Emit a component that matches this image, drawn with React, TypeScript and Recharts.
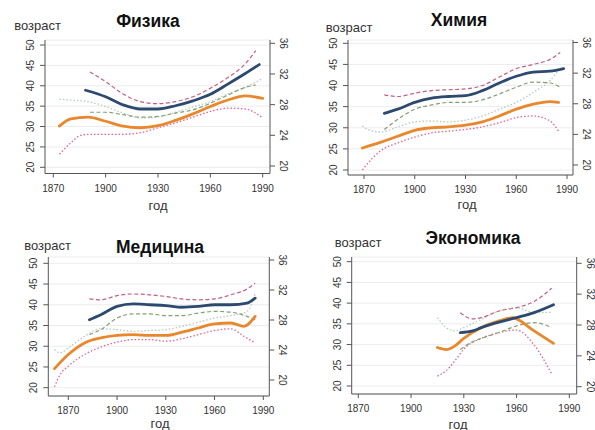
import React from 'react';
import { LineChart, Line, XAxis, YAxis, CartesianGrid } from 'recharts';

type Pt = [number, number];

// ---------- tick labels / texts ----------
const yearTicks = [1870, 1900, 1930, 1960, 1990];
const ageTicks = [20, 25, 30, 35, 40, 45, 50];
const rightTicks = [20, 24, 28, 32, 36];
const titles = ['Физика', 'Химия', 'Медицина', 'Экономика'];
const yLabel = 'возраст';
const xLabel = 'год';

// ---------- Физика ----------
const physBlue: Pt[] = [[1888.5, 38.9], [1900, 37.3], [1910, 35.3], [1920, 34.3], [1930, 34.3], [1940, 35.1], [1950, 36.3], [1960, 37.9], [1970, 40.4], [1980, 43.0], [1988, 45.2]];
const physUpper: Pt[] = [[1891, 43.4], [1900, 41.0], [1910, 38.0], [1920, 36.1], [1930, 35.6], [1940, 36.1], [1950, 37.3], [1960, 39.4], [1970, 42.0], [1980, 45.4], [1986, 48.6]];
const physLower: Pt[] = [[1891, 33.5], [1900, 33.5], [1910, 32.9], [1920, 32.3], [1930, 32.5], [1940, 33.3], [1950, 34.1], [1960, 35.7], [1970, 37.7], [1980, 39.6], [1986, 40.2]];
const physOrange: Pt[] = [[1873.5, 30.1], [1880, 31.9], [1890, 32.3], [1900, 31.3], [1910, 30.1], [1920, 29.7], [1930, 30.2], [1940, 31.5], [1950, 33.1], [1960, 34.9], [1970, 36.5], [1980, 37.5], [1990, 36.9]];
const physDotUpper: Pt[] = [[1873.5, 36.7], [1880, 36.5], [1890, 36.1], [1900, 34.9], [1910, 33.3], [1920, 32.1], [1930, 32.3], [1940, 33.5], [1950, 34.8], [1960, 36.1], [1970, 38.0], [1980, 39.6], [1990, 41.8]];
const physDotLower: Pt[] = [[1873.5, 23.2], [1880, 26.0], [1885, 27.7], [1890, 28.1], [1900, 28.1], [1910, 28.1], [1920, 28.5], [1930, 29.7], [1940, 30.9], [1950, 32.3], [1960, 33.7], [1970, 34.5], [1980, 34.3], [1990, 32.1]];

// ---------- Химия ----------
const chemBlue: Pt[] = [[1882, 33.4], [1890, 34.4], [1900, 36.0], [1910, 37.0], [1920, 37.4], [1930, 37.6], [1940, 38.8], [1950, 40.6], [1960, 42.2], [1970, 43.2], [1980, 43.4], [1988, 44.0]];
const chemUpper: Pt[] = [[1882, 37.8], [1890, 37.4], [1900, 38.2], [1910, 38.8], [1920, 39.0], [1930, 39.2], [1940, 40.0], [1950, 42.0], [1960, 44.0], [1970, 45.0], [1980, 46.2], [1986, 47.8]];
const chemLower: Pt[] = [[1882, 29.6], [1890, 32.0], [1900, 34.4], [1910, 35.4], [1920, 36.0], [1930, 36.0], [1940, 36.6], [1950, 38.0], [1960, 39.6], [1970, 40.8], [1980, 40.6], [1986, 39.6]];
const chemOrange: Pt[] = [[1869, 25.2], [1880, 26.6], [1890, 28.0], [1900, 29.4], [1910, 30.0], [1920, 30.2], [1930, 30.6], [1940, 31.4], [1950, 32.8], [1960, 34.4], [1970, 35.6], [1980, 36.2], [1985, 36.0]];
const chemDotUpper: Pt[] = [[1869, 30.4], [1875, 29.2], [1880, 29.0], [1890, 30.2], [1900, 31.4], [1910, 31.6], [1920, 31.4], [1930, 31.8], [1940, 32.8], [1950, 34.4], [1960, 36.0], [1970, 38.4], [1980, 41.2], [1985, 43.6]];
const chemDotLower: Pt[] = [[1869, 20.0], [1875, 22.8], [1880, 24.6], [1890, 26.4], [1900, 27.8], [1910, 28.8], [1920, 29.2], [1930, 29.6], [1940, 30.2], [1950, 31.2], [1960, 32.4], [1970, 32.8], [1980, 31.6], [1985, 29.2]];

// ---------- Медицина ----------
const medBlue: Pt[] = [[1883, 36.4], [1890, 37.6], [1900, 39.6], [1910, 40.2], [1920, 40.0], [1930, 39.8], [1940, 39.4], [1950, 39.6], [1960, 40.0], [1970, 40.0], [1980, 40.4], [1985, 41.6]];
const medUpper: Pt[] = [[1883, 41.4], [1890, 41.2], [1900, 42.2], [1910, 42.6], [1920, 42.4], [1930, 42.0], [1940, 41.4], [1950, 41.2], [1960, 41.4], [1970, 42.4], [1980, 43.8], [1985, 45.2]];
const medLower: Pt[] = [[1883, 32.8], [1890, 34.0], [1900, 36.8], [1910, 37.8], [1920, 37.8], [1930, 37.4], [1940, 37.4], [1950, 38.0], [1960, 38.4], [1970, 38.2], [1980, 37.2], [1985, 36.4]];
const medOrange: Pt[] = [[1861.5, 24.6], [1870, 28.0], [1880, 30.8], [1890, 32.0], [1900, 32.6], [1910, 32.8], [1920, 32.6], [1930, 32.6], [1940, 33.4], [1950, 34.4], [1960, 35.4], [1970, 35.6], [1978, 34.8], [1985, 37.2]];
const medDotUpper: Pt[] = [[1861.5, 29.2], [1865, 28.4], [1870, 29.6], [1880, 32.4], [1890, 34.2], [1900, 34.0], [1910, 33.6], [1920, 33.8], [1930, 34.0], [1940, 34.8], [1950, 35.8], [1960, 36.8], [1970, 37.4], [1980, 38.4], [1985, 42.6]];
const medDotLower: Pt[] = [[1861.5, 20.2], [1865, 23.2], [1870, 25.2], [1880, 28.0], [1890, 29.8], [1900, 31.0], [1910, 31.6], [1920, 31.6], [1930, 31.2], [1940, 31.8], [1950, 32.8], [1960, 33.8], [1970, 34.2], [1978, 32.4], [1985, 30.8]];

// ---------- Экономика ----------
const econBlue: Pt[] = [[1928, 32.9], [1935, 33.3], [1940, 34.1], [1950, 35.4], [1960, 36.5], [1970, 37.7], [1981, 39.6]];
const econUpper: Pt[] = [[1928, 37.7], [1935, 36.2], [1940, 36.5], [1950, 38.1], [1960, 38.9], [1970, 40.4], [1980, 43.6]];
const econLower: Pt[] = [[1928, 28.8], [1935, 30.7], [1940, 31.5], [1950, 32.9], [1960, 34.5], [1970, 35.3], [1980, 34.1]];
const econOrange: Pt[] = [[1915, 29.3], [1920, 28.8], [1925, 29.7], [1930, 31.5], [1940, 34.1], [1950, 35.7], [1958, 36.5], [1960, 36.2], [1970, 33.3], [1981, 30.3]];
const econDotUpper: Pt[] = [[1915, 36.5], [1920, 34.1], [1925, 33.3], [1930, 34.1], [1940, 36.1], [1950, 38.1], [1960, 38.9], [1970, 37.7], [1980, 37.8]];
const econDotLower: Pt[] = [[1915, 22.4], [1920, 23.7], [1925, 26.1], [1930, 28.9], [1940, 31.5], [1950, 32.9], [1960, 33.5], [1970, 29.9], [1980, 22.9]];

// ---------- styles ----------
const FONT = '"Liberation Sans", Arial, Helvetica, sans-serif';
const AXIS = '#555';
const TXT = '#333';

type Style = { stroke: string; width: number; dash?: string };
const seriesStyles: Style[] = [
  { stroke: '#b7c9bc', width: 1.3, dash: '1.5 2' },   // dotted upper
  { stroke: '#e3648c', width: 1.3, dash: '1.5 2' },   // dotted lower
  { stroke: '#83a173', width: 1.2, dash: '4 2.5' },   // dashed lower
  { stroke: '#c45f7e', width: 1.2, dash: '4 2.5' },   // dashed upper
  { stroke: '#e8872b', width: 2.8 },                  // orange
  { stroke: '#2c4a6f', width: 2.8 },                  // blue
];

type Cal = [[number, number], [number, number]];
type PanelCfg = {
  title: string;
  series: Pt[][];
  ox: number; oy: number; w: number; h: number;
  l: number; r: number; t: number; b: number;
  xCal: Cal; lCal: Cal; rCal: Cal;
  titlePos: [number, number]; yLabPos: [number, number]; xLabPos: [number, number];
};

const panels: PanelCfg[] = [
  {
    title: titles[0],
    series: [physDotUpper, physDotLower, physLower, physUpper, physOrange, physBlue],
    ox: 0, oy: 0, w: 297, h: 215, l: 45, r: 270, t: 40, b: 173.5,
    xCal: [[1870, 53.3], [1990, 262.7]], lCal: [[20, 167.3], [50, 45]], rCal: [[20, 166], [36, 43.3]],
    titlePos: [148, 27], yLabPos: [37.5, 29.5], xLabPos: [158, 210],
  },
  {
    title: titles[1],
    series: [chemDotUpper, chemDotLower, chemLower, chemUpper, chemOrange, chemBlue],
    ox: 297, oy: 0, w: 298, h: 215, l: 348, r: 573, t: 40, b: 175,
    xCal: [[1870, 364], [1990, 567]], lCal: [[20, 170], [50, 43.3]], rCal: [[20, 165], [36, 42.5]],
    titlePos: [459, 26], yLabPos: [349, 31.5], xLabPos: [467, 208.5],
  },
  {
    title: titles[2],
    series: [medDotUpper, medDotLower, medLower, medUpper, medOrange, medBlue],
    ox: 0, oy: 215, w: 297, h: 215, l: 48.3, r: 269.3, t: 257, b: 396,
    xCal: [[1870, 68.3], [1990, 263.3]], lCal: [[20, 387.7], [50, 263.3]], rCal: [[20, 380], [36, 260]],
    titlePos: [160, 253], yLabPos: [47.5, 250], xLabPos: [160, 428],
  },
  {
    title: titles[3],
    series: [econDotUpper, econDotLower, econLower, econUpper, econOrange, econBlue],
    ox: 297, oy: 215, w: 298, h: 215, l: 351.7, r: 576.7, t: 257, b: 394,
    xCal: [[1870, 358.3], [1990, 569.3]], lCal: [[20, 386], [50, 261.7]], rCal: [[20, 386.7], [36, 263.3]],
    titlePos: [473, 244], yLabPos: [358, 246.5], xLabPos: [458, 428.5],
  },
];

const inv = (cal: Cal, p: number) =>
  cal[0][0] + ((p - cal[0][1]) * (cal[1][0] - cal[0][0])) / (cal[1][1] - cal[0][1]);

const LeftTick = (props: any) => {
  const { x, y, payload } = props;
  return (
    <text x={x} y={y} transform={`rotate(-90 ${x} ${y})`} textAnchor="middle" fontSize={10} fill={TXT} fontFamily={FONT}>
      {payload.value}
    </text>
  );
};
const RightTick = (props: any) => {
  const { x, y, payload } = props;
  return (
    <text x={x} y={y} transform={`rotate(90 ${x} ${y})`} textAnchor="middle" fontSize={10} fill={TXT} fontFamily={FONT}>
      {payload.value}
    </text>
  );
};
const BottomTick = (props: any) => {
  const { x, y, payload } = props;
  return (
    <text x={x} y={y} dy="0.71em" textAnchor="middle" fontSize={10} fill={TXT} fontFamily={FONT}>
      {payload.value}
    </text>
  );
};

const Panel = ({ cfg }: { cfg: PanelCfg }) => {
  const xDomain = [inv(cfg.xCal, cfg.l), inv(cfg.xCal, cfg.r)];
  const lDomain = [inv(cfg.lCal, cfg.b), inv(cfg.lCal, cfg.t)];
  const rDomain = [inv(cfg.rCal, cfg.b), inv(cfg.rCal, cfg.t)];
  return (
    <div style={{ position: 'absolute', left: cfg.ox, top: cfg.oy, width: cfg.w, height: cfg.h }}>
      <LineChart width={cfg.w} height={cfg.h} margin={{ top: cfg.t - cfg.oy, left: 0, right: 0, bottom: 0 }}>
        <CartesianGrid yAxisId="L" vertical={false} stroke="#ececec" strokeWidth={1} />
        <XAxis
          type="number"
          dataKey="year"
          domain={xDomain}
          allowDataOverflow
          ticks={yearTicks}
          interval={0}
          height={cfg.oy + cfg.h - cfg.b}
          tickSize={4}
          tickMargin={7}
          stroke={AXIS}
          tick={<BottomTick />}
        />
        <YAxis
          yAxisId="L"
          type="number"
          domain={lDomain}
          allowDataOverflow
          ticks={ageTicks}
          interval={0}
          width={cfg.l - cfg.ox}
          tickSize={5}
          tickMargin={6}
          stroke={AXIS}
          tick={<LeftTick />}
        />
        <YAxis
          yAxisId="R"
          orientation="right"
          type="number"
          domain={rDomain}
          allowDataOverflow
          ticks={rightTicks}
          interval={0}
          width={cfg.ox + cfg.w - cfg.r}
          tickSize={5}
          tickMargin={5}
          stroke={AXIS}
          tick={<RightTick />}
        />
        {cfg.series.map((s, i) => {
          const st = seriesStyles[i];
          return (
            <Line
              key={i}
              yAxisId="L"
              data={s.map(([year, v]) => ({ year, v }))}
              dataKey="v"
              type="monotone"
              stroke={st.stroke}
              strokeWidth={st.width}
              strokeDasharray={st.dash}
              strokeLinecap={st.dash ? 'butt' : 'round'}
              dot={false}
              activeDot={false}
              isAnimationActive={false}
            />
          );
        })}
      </LineChart>
    </div>
  );
};

export default function App() {
  return (
    <div style={{ position: 'absolute', left: 0, top: 0, width: 595, height: 430, background: '#fff', overflow: 'hidden' }}>
      {panels.map((p, i) => (
        <Panel key={i} cfg={p} />
      ))}
      <svg width={595} height={430} style={{ position: 'absolute', left: 0, top: 0, pointerEvents: 'none' }}>
        {panels.map((p, i) => (
          <g key={i} fontFamily={FONT}>
            <text x={p.titlePos[0]} y={p.titlePos[1]} textAnchor="middle" fontSize={17.5} fontWeight="bold" fill="#111">
              {p.title}
            </text>
            <text x={p.yLabPos[0]} y={p.yLabPos[1]} textAnchor="middle" fontSize={13} fill={TXT}>
              {yLabel}
            </text>
            <text x={p.xLabPos[0]} y={p.xLabPos[1]} textAnchor="middle" fontSize={13} fill={TXT}>
              {xLabel}
            </text>
          </g>
        ))}
      </svg>
    </div>
  );
}
